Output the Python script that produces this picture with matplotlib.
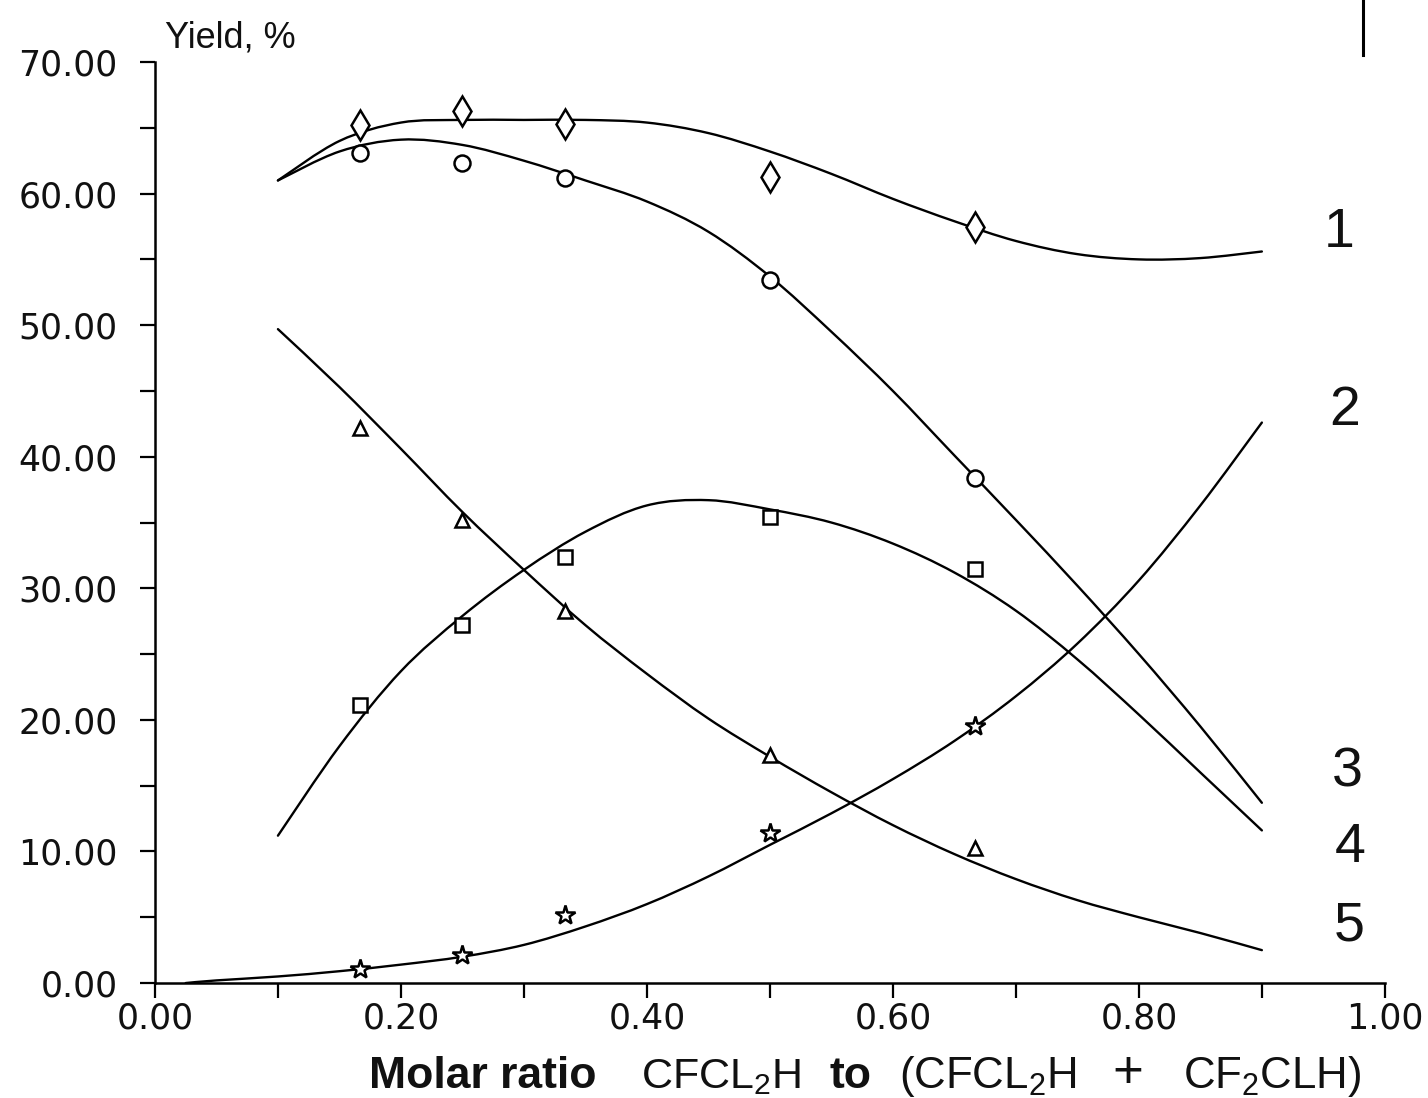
import matplotlib
matplotlib.use("Agg")
import matplotlib.pyplot as plt
import numpy as np
from matplotlib.lines import Line2D
from matplotlib.path import Path
from matplotlib.patches import PathPatch
from matplotlib.ticker import MultipleLocator, FormatStrFormatter

plt.rcParams['mathtext.default'] = 'regular'

# Measured yields at each molar ratio
ratio_pts = [0.1667, 0.25, 0.3333, 0.5, 0.6667]
yield_diamond = [65.2, 66.3, 65.3, 61.3, 57.5]
yield_circle = [63.1, 62.3, 61.2, 53.4, 38.4]
yield_square = [21.1, 27.2, 32.4, 35.4, 31.5]
yield_triangle = [42.2, 35.2, 28.3, 17.3, 10.3]
yield_star = [1.1, 2.1, 5.2, 11.4, 19.5]

# Fitted curves
curve_x = [0.10, 0.15, 0.20, 0.25, 0.30, 0.35, 0.40, 0.45, 0.50,
           0.55, 0.60, 0.65, 0.70, 0.75, 0.80, 0.85, 0.90]
curve_1 = [61.0, 64.0, 65.4, 65.6, 65.6, 65.6, 65.4, 64.6, 63.2,
           61.5, 59.6, 57.9, 56.4, 55.4, 55.0, 55.1, 55.6]
curve_3 = [61.0, 63.2, 64.1, 63.7, 62.5, 61.0, 59.4, 57.1, 53.7,
           49.5, 45.0, 40.1, 35.2, 30.2, 25.0, 19.5, 13.7]
curve_4 = [11.2, 18.0, 23.7, 27.9, 31.4, 34.3, 36.3, 36.7, 36.0,
           35.0, 33.4, 31.2, 28.3, 24.6, 20.4, 16.0, 11.6]
curve_5 = [49.7, 45.3, 40.6, 35.8, 31.4, 27.2, 23.5, 20.1, 17.2,
           14.5, 12.0, 9.8, 7.9, 6.3, 5.0, 3.8, 2.5]
curve_2_x = [0.025, 0.05, 0.10, 0.15, 0.20, 0.25, 0.30, 0.35, 0.40, 0.45,
             0.50, 0.55, 0.60, 0.65, 0.70, 0.75, 0.80, 0.85, 0.90]
curve_2 = [0.0, 0.2, 0.5, 0.9, 1.4, 2.0, 2.9, 4.3, 6.0, 8.1,
           10.5, 12.9, 15.5, 18.4, 21.8, 25.8, 30.6, 36.3, 42.6]

curve_labels = ["1", "2", "3", "4", "5"]
label_y = [57.0, 43.5, 16.0, 10.3, 4.3]


def smooth_path(xs, ys):
    """Bezier path through the given points (Catmull-Rom tangents)."""
    p = np.column_stack([xs, ys]).astype(float)
    n = len(p)
    verts = [p[0]]
    codes = [Path.MOVETO]
    for i in range(n - 1):
        p0 = p[i - 1] if i > 0 else p[i]
        p1, p2 = p[i], p[i + 1]
        p3 = p[i + 2] if i + 2 < n else p[i + 1]
        c1 = p1 + (p2 - p0) / 6.0
        c2 = p2 - (p3 - p1) / 6.0
        verts += [c1, c2, p2]
        codes += [Path.CURVE4] * 3
    return Path(verts, codes)


fig = plt.figure(figsize=(14.28, 10.98), dpi=100)
ax = fig.add_axes([0.1085, 0.1047, 0.8613, 0.8388])

lw = 1.7
for xs, ys in [(curve_x, curve_1), (curve_x, curve_3), (curve_x, curve_4),
               (curve_x, curve_5), (curve_2_x, curve_2)]:
    ax.add_patch(PathPatch(smooth_path(xs, ys), facecolor='none',
                           edgecolor='black', lw=lw, capstyle='round',
                           joinstyle='round'))

mk = dict(linestyle='none', color='black', markerfacecolor='white',
          markeredgewidth=1.8)
ax.plot(ratio_pts, yield_diamond, marker='d', markersize=15, **mk)
ax.plot(ratio_pts, yield_circle, marker='o', markersize=11.5, **mk)
ax.plot(ratio_pts, yield_square, marker='s', markersize=10.5, **mk)
ax.plot(ratio_pts, yield_triangle, marker='^', markersize=10.5, **mk)
ax.plot(ratio_pts, yield_star, marker='*', markersize=15, **mk)

ax.set_xlim(0, 1.0)
ax.set_ylim(0, 70)
ax.spines['top'].set_visible(False)
ax.spines['right'].set_visible(False)
for s in ('left', 'bottom'):
    ax.spines[s].set_linewidth(1.8)

ax.xaxis.set_major_locator(MultipleLocator(0.2))
ax.xaxis.set_minor_locator(MultipleLocator(0.1))
ax.yaxis.set_major_locator(MultipleLocator(10))
ax.yaxis.set_minor_locator(MultipleLocator(5))
ax.xaxis.set_major_formatter(FormatStrFormatter('%.2f'))
ax.yaxis.set_major_formatter(FormatStrFormatter('%.2f'))
ax.tick_params(which='both', direction='out', length=11, width=1.6,
               color='black')
ax.tick_params(axis='y', which='major', pad=16, labelsize=25)
ax.tick_params(axis='x', which='major', pad=2, labelsize=25)
for t in ax.get_xticklabels() + ax.get_yticklabels():
    t.set_fontfamily('DejaVu Sans')
    t.set_color('#111111')

# Curve numbers at the right end
label_x = [0.975, 0.980, 0.982, 0.984, 0.984]
for lab, x, y in zip(curve_labels, label_x, label_y):
    ax.text(x, y, lab, transform=ax.get_yaxis_transform(),
            ha='right', va='center', fontsize=40,
            family='Liberation Sans', color='#111111')

fig.text(165 / 1428, 1 - 38 / 1098, "Yield, %", fontsize=26,
         family='Liberation Sans', ha='left', va='center', color='#111111')

# Axis title built from bold and regular pieces
parts = [
    (369, "Molar ratio", 'bold', 32),
    (641, "CFCL$_2$H", 'normal', 31),
    (829, "to", 'bold', 32),
    (899, "(CFCL$_2$H", 'normal', 31.5),
    (1112, "+", 'normal', 38),
    (1183, "CF$_2$CLH)", 'normal', 31.5),
]
for px, txt, wt, fs in parts:
    fig.text(px / 1428, 1 - 1088 / 1098, txt, fontsize=fs, fontweight=wt,
             family='Liberation Sans', ha='left', va='baseline',
             color='#111111')

# Scan edge mark at the top right
fig.add_artist(Line2D([1363 / 1428, 1363 / 1428], [1.0, 1 - 55 / 1098],
                      transform=fig.transFigure, color='black', lw=2.2))

fig.savefig("out.png", dpi=100, facecolor='white')
